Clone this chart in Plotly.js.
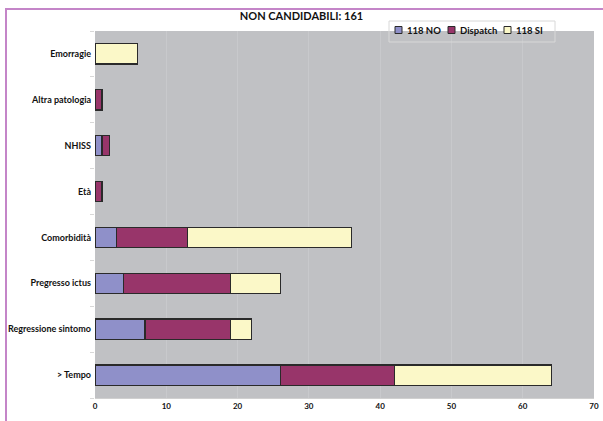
<!DOCTYPE html>
<html><head><meta charset="utf-8">
<script src="https://cdn.plot.ly/plotly-3.0.1.min.js"></script>
<style>
html,body{margin:0;padding:0;background:#fff;overflow:hidden;}
#frame{position:absolute;left:5px;top:8px;width:700px;height:500px;border:2px solid #c485c8;}
#chart{position:absolute;left:0;top:0;width:603px;height:421px;}
</style></head>
<body>
<div id="frame"></div>
<div id="chart"></div>
<script>
const categories = ['> Tempo', 'Regressione sintomo', 'Pregresso ictus', 'Comorbidità', 'Età', 'NHISS', 'Altra patologia', 'Emorragie'];
const no118 = [26, 7, 4, 3, 0, 1, 0, 0];
const dispatch = [16, 12, 15, 10, 1, 1, 1, 0];
const si118 = [22, 3, 7, 23, 0, 0, 0, 6];
const seriesNames = ['118 NO', 'Dispatch', '118 SI'];
const xTicks = [0, 10, 20, 30, 40, 50, 60, 70];
const chartTitle = 'NON CANDIDABILI: 161';

const colors = ['#8f90c9', '#98356a', '#fbf8c8'];
const data = [no118, dispatch, si118].map((vals, i) => ({
  type: 'bar', orientation: 'h', y: categories, x: vals, name: seriesNames[i],
  marker: {color: colors[i], line: {color: '#2a2a2a', width: 1.3}},
  hoverinfo: 'x+y'
}));

// plot area geometry (px) and px -> paper helpers for the hand-built legend
const M = {l: 95, r: 9, t: 31, b: 23}, W = 603, H = 421;
const pw = W - M.l - M.r, ph = H - M.t - M.b;
const px2x = p => (p - M.l) / pw;
const py2y = p => (H - M.b - p) / ph;

const shapes = [{type: 'rect', xref: 'paper', yref: 'paper',
  x0: px2x(389), x1: px2x(555), y0: py2y(42), y1: py2y(21),
  line: {color: '#d8d8d8', width: 1}, fillcolor: 'rgba(0,0,0,0)'}];
const annotations = [];
const sqX = [395, 448, 504];
sqX.forEach((sx, i) => {
  shapes.push({type: 'rect', xref: 'paper', yref: 'paper',
    x0: px2x(sx), x1: px2x(sx + 7), y0: py2y(33.5), y1: py2y(26.5),
    line: {color: '#2a2a2a', width: 1}, fillcolor: colors[i]});
  annotations.push({xref: 'paper', yref: 'paper', x: px2x(sx + 10), y: py2y(30),
    xanchor: 'left', yanchor: 'middle', showarrow: false,
    text: '<b>' + seriesNames[i] + '</b>', font: {size: 9.5, color: '#111'}});
});

const layout = {
  width: W, height: H,
  margin: Object.assign({autoexpand: false}, M),
  paper_bgcolor: 'rgba(0,0,0,0)',
  plot_bgcolor: '#c0c1c4',
  barmode: 'stack',
  bargap: 0.56,
  showlegend: false,
  font: {family: 'Lato, "Open Sans", sans-serif', color: '#111'},
  title: {text: '<b>' + chartTitle + '</b>', x: 0.5, xanchor: 'center', y: 0.962, yanchor: 'middle', font: {size: 11, color: '#111'}},
  xaxis: {range: [0, 70], tickvals: xTicks, ticktext: xTicks.map(v => '<b>' + v + '</b>'),
    showgrid: true, gridcolor: '#c8c9cc', gridwidth: 1, zeroline: false,
    showline: true, linecolor: '#d0d0d0', ticks: '', tickfont: {size: 8}, fixedrange: true, automargin: false},
  yaxis: {categoryorder: 'array', categoryarray: categories,
    ticktext: categories.map(c => '<b>' + c + '</b>'), tickvals: categories,
    ticks: 'outside', tickson: 'boundaries', ticklen: 4, tickcolor: '#d8d8d8',
    ticklabelstandoff: 3,
    showline: false, showgrid: false, tickfont: {size: 9}, fixedrange: true, automargin: false},
  shapes: shapes,
  annotations: annotations
};
Plotly.newPlot('chart', data, layout, {displayModeBar: false, staticPlot: true});
</script>
</body></html>
